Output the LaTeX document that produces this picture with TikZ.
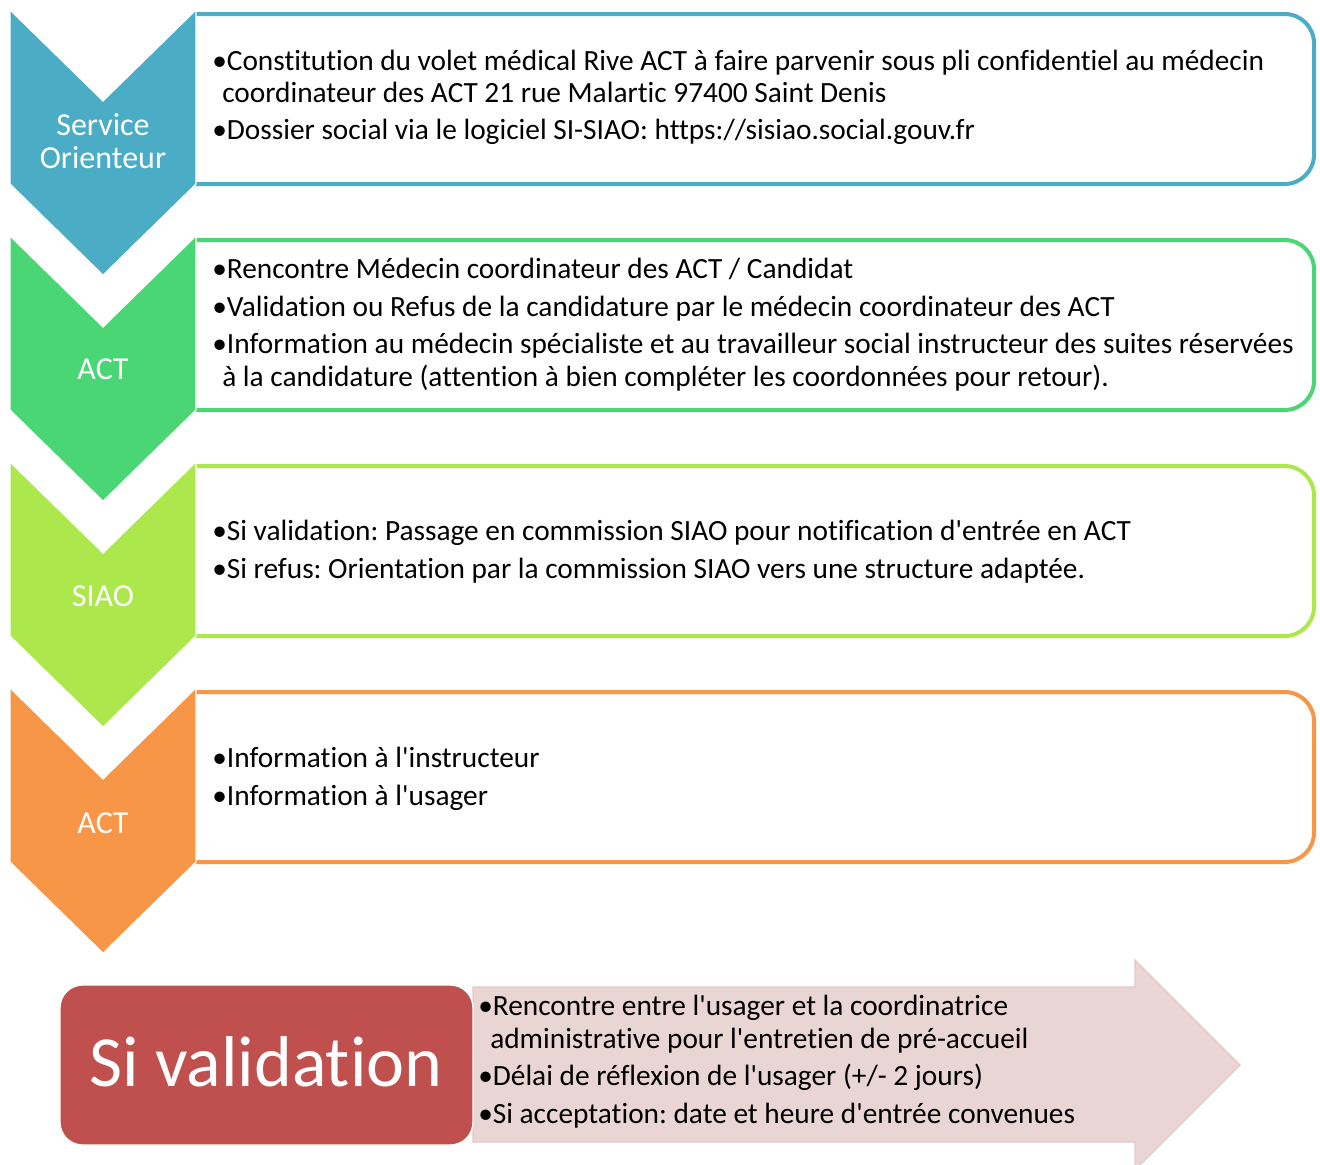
\documentclass[tikz,border=0pt]{standalone}
\usepackage{fontspec}
\setmainfont{Carlito}[Ligatures={TeXOff,NoCommon}]
\frenchspacing
\definecolor{cblue}{HTML}{4BACC6}
\definecolor{cgreen}{HTML}{4AD675}
\definecolor{clime}{HTML}{ACE84B}
\definecolor{corange}{HTML}{F79646}
\definecolor{cred}{HTML}{C0504D}
\definecolor{cpink}{HTML}{EAD5D5}
\definecolor{cpinkline}{HTML}{E4C8C8}
\begin{document}
\begin{tikzpicture}[x=0.75pt,y=-0.75pt,
  chev/.style={draw=white,line width=0.8pt},
  framebox/.style={draw=#1,line width=3pt,fill=white,rounded corners=22pt},
  lab/.style={text=white,font=\fontsize{24}{27}\selectfont,align=center,inner sep=0pt},
  txt/.style={anchor=base west,inner sep=0pt,font=\fontsize{22}{24}\selectfont,text=black},
  big/.style={text=white,font=\fontsize{54}{60}\selectfont,inner sep=0pt}]
\useasboundingbox (0,0) rectangle (1320,1164);
% ---- stage boxes and chevrons
\foreach \T/\c in {10/cblue,236/cgreen,462/clime,688/corange}{
  \draw[framebox=\c] (196,\T+4) -- (1314,\T+4) -- (1314,\T+174) -- (196,\T+174);
  \fill[\c,chev] (10,\T) -- (103,\T+91) -- (196,\T) -- (196,\T+174) -- (103,\T+265) -- (10,\T+174) -- cycle;
}
\node[lab] (l1) at (103,141) {Service\\[-2pt]Orienteur};
\node[lab] (l2) at (103,369) {ACT};
\node[lab] (l3) at (103,596) {SIAO};
\node[lab] (l4) at (103,823) {ACT};
% ---- box 1
\node[txt] (a1) at (212,70) {•Constitution du volet médical Rive ACT à faire parvenir sous pli confidentiel au médecin};
\node[txt] (a2) at (222,102) {coordinateur des ACT 21 rue Malartic 97400 Saint Denis};
\node[txt] (a3) at (212,139) {•Dossier social via le logiciel SI-SIAO: https://sisiao.social.gouv.fr};
% ---- box 2
\node[txt] (b1) at (212,278) {•Rencontre Médecin coordinateur des ACT / Candidat};
\node[txt] (b2) at (212,316) {•Validation ou Refus de la candidature par le médecin coordinateur des ACT};
\node[txt] (b3) at (212,353) {•Information au médecin spécialiste et au travailleur social instructeur des suites réservées};
\node[txt] (b4) at (222,386) {à la candidature (attention à bien compléter les coordonnées pour retour).};
% ---- box 3
\node[txt] (c1) at (212,540) {•Si validation: Passage en commission SIAO pour notification d'entrée en ACT};
\node[txt] (c2) at (212,578) {•Si refus: Orientation par la commission SIAO vers une structure adaptée.};
% ---- box 4
\node[txt] (d1) at (212,767) {•Information à l'instructeur};
\node[txt] (d2) at (212,805) {•Information à l'usager};
% ---- final arrow
\filldraw[fill=cpink,draw=cpinkline,line width=0.8pt] (473,987) -- (1135,987) -- (1135,960) -- (1240,1065) -- (1135,1170) -- (1135,1142) -- (473,1142) -- cycle;
\filldraw[fill=cred,draw=white,line width=1pt,rounded corners=17pt] (60,985) rectangle (473,1145);
\node[big] (sv) at (266,1062) {Si validation};
\node[txt] (e1) at (478,1015) {•Rencontre entre l'usager et la coordinatrice};
\node[txt] (e2) at (490,1048) {administrative pour l'entretien de pré-accueil};
\node[txt] (e3) at (478,1085) {•Délai de réflexion de l'usager (+/- 2 jours)};
\node[txt] (e4) at (478,1123) {•Si acceptation: date et heure d'entrée convenues};
\end{tikzpicture}
\end{document}
